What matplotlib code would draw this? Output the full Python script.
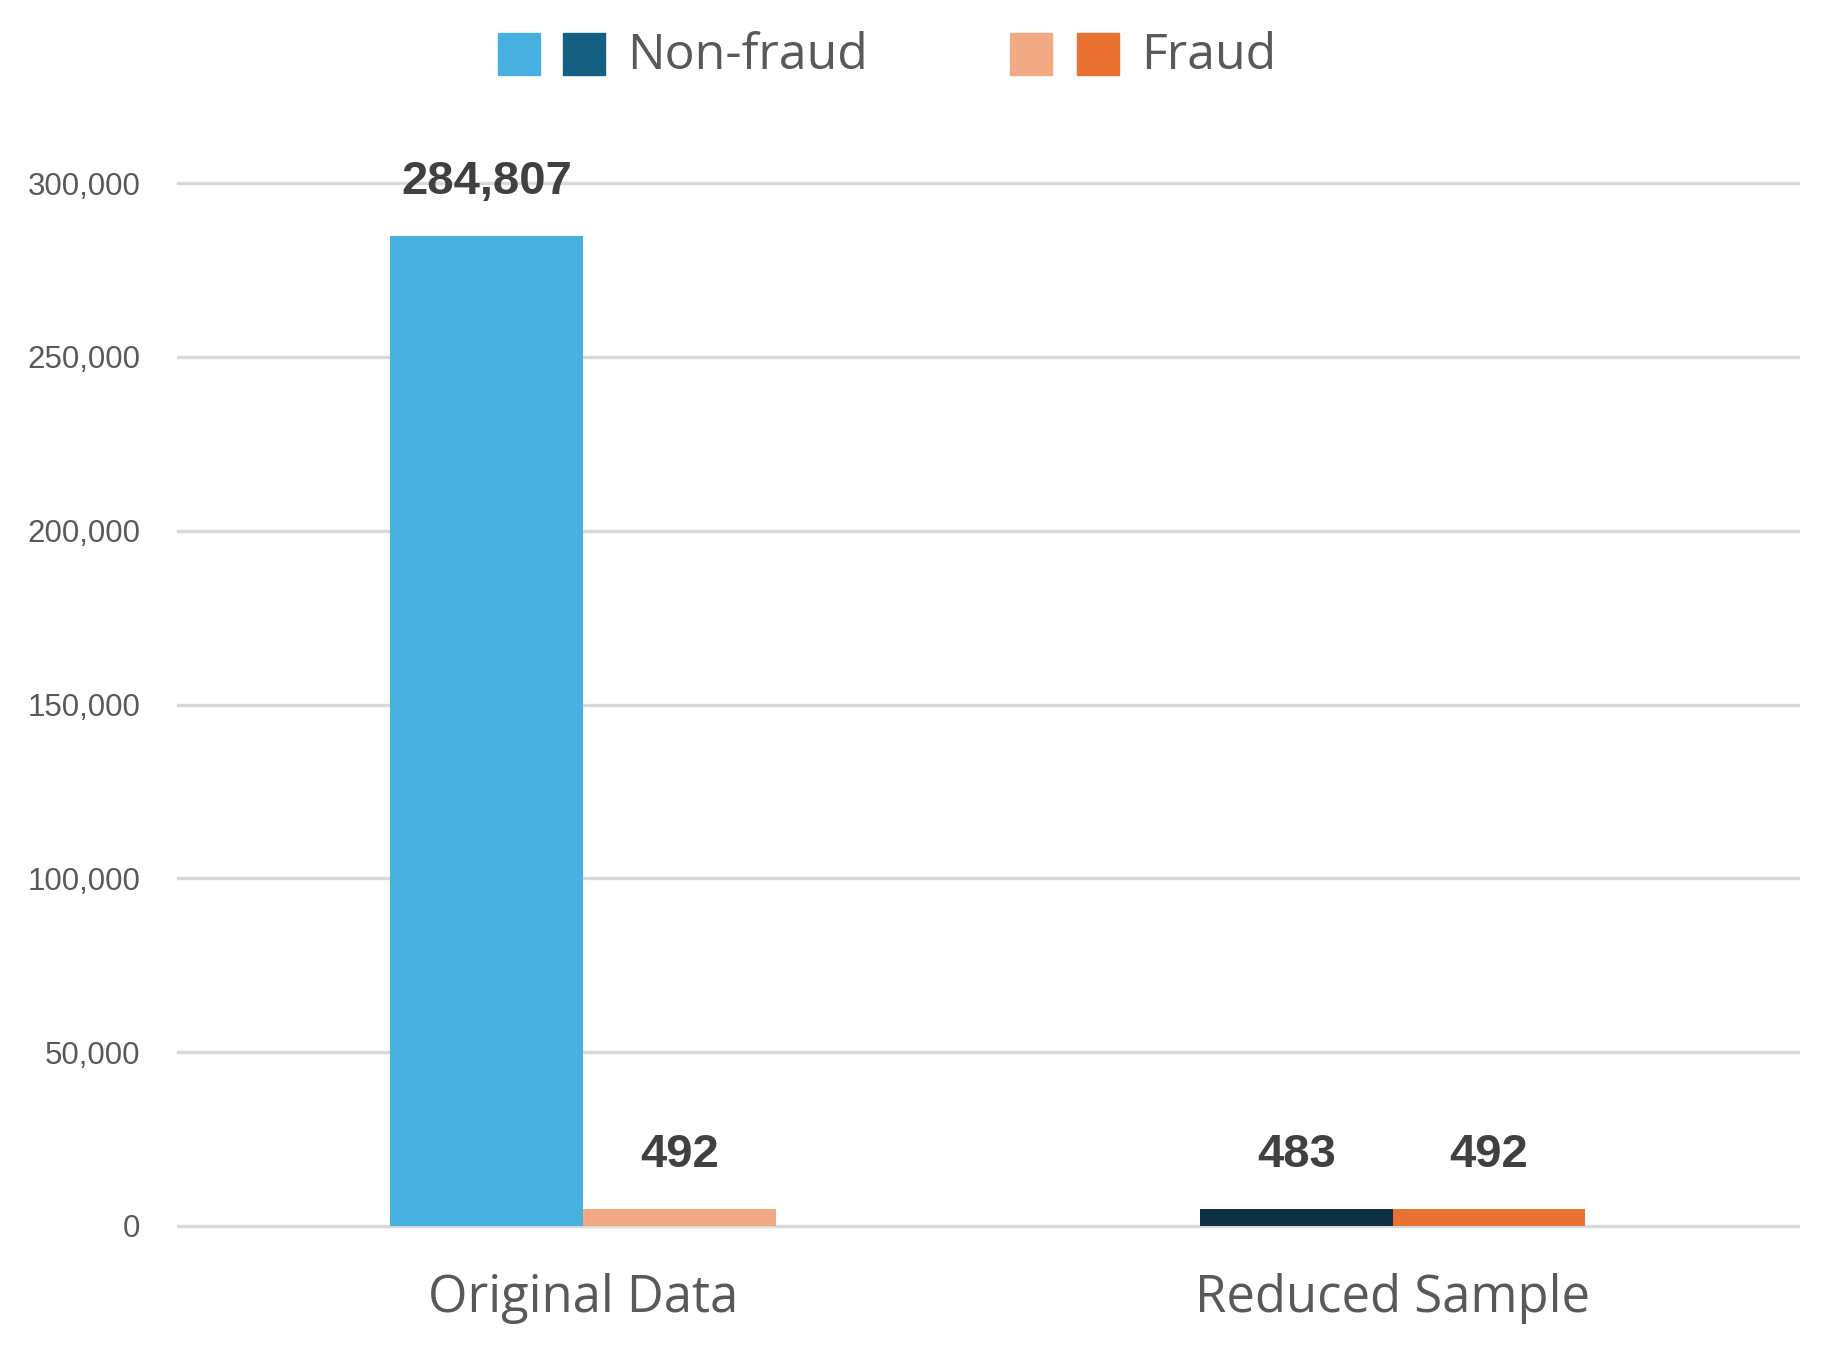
import matplotlib
matplotlib.use("Agg")
import matplotlib.pyplot as plt
from matplotlib.patches import Rectangle
from matplotlib.ticker import FuncFormatter
import numpy as np

# ---- data ----
categories = ["Original Data", "Reduced Sample"]
nonfraud = [284807, 483]
fraud = [492, 492]
legend_labels = ["Non-fraud", "Fraud"]
y_ticks = [0, 50000, 100000, 150000, 200000, 250000, 300000]

# ---- style ----
nonfraud_colors = ["#47B0E0", "#0E2F44"]
fraud_colors = ["#F2AA84", "#E97132"]
legend_nonfraud = ["#47B0E0", "#156082"]
legend_fraud = ["#F2AA84", "#E97132"]
min_visible = 4800  # minimum drawn height so tiny bars stay visible
bar_w = 0.238

fig = plt.figure(figsize=(18.25, 13.49), dpi=100)
ax = fig.add_axes([0.0975, 0.0912, 0.8875, 0.7731])

x = np.arange(len(categories))
nf_h = [max(v, min_visible) for v in nonfraud]
fr_h = [max(v, min_visible) for v in fraud]
ax.bar(x - bar_w / 2, nf_h, width=bar_w, color=nonfraud_colors, zorder=3)
ax.bar(x + bar_w / 2, fr_h, width=bar_w, color=fraud_colors, zorder=3)

for xs, vals, hs in ((x - bar_w / 2, nonfraud, nf_h), (x + bar_w / 2, fraud, fr_h)):
    for xi, v, h in zip(xs, vals, hs):
        ax.annotate(f"{v:,}", (xi, h), xytext=(0, 39), textcoords="offset points",
                    ha="center", va="center", fontsize=34, fontweight="bold",
                    color="#404040", family="Liberation Sans")

ax.set_xlim(-0.5, 1.5)
ax.set_ylim(0, 300000)
ax.set_yticks(y_ticks)
ax.yaxis.set_major_formatter(FuncFormatter(lambda v, p: f"{int(v):,}"))
ax.set_xticks(x)
ax.set_xticklabels(categories, fontsize=36.5, color="#595959", family="Open Sans")
for lab in ax.get_yticklabels():
    lab.set_fontsize(22.5)
    lab.set_color("#595959")
    lab.set_family("Liberation Sans")
ax.tick_params(axis="y", length=0, pad=27)
ax.tick_params(axis="x", length=0, pad=34)
ax.grid(axis="y", color="#D9D9D9", linewidth=2.4, zorder=0)
for gl in ax.get_ygridlines():
    gl.set_clip_on(False)
for s in ax.spines.values():
    s.set_visible(False)
ax.set_axisbelow(True)

# ---- legend (manual) ----
W, H = 1825, 1349
sq = 42
yc = 54
def square(px, color):
    fig.patches.append(Rectangle((px / W, (H - yc - sq / 2) / H), sq / W, sq / H,
                                 transform=fig.transFigure, color=color))
square(498, legend_nonfraud[0])
square(563, legend_nonfraud[1])
fig.text(627 / W, 1 - (yc + 2) / H, legend_labels[0], fontsize=36, color="#595959",
         family="Open Sans", va="center", ha="left")
square(1010, legend_fraud[0])
square(1077, legend_fraud[1])
fig.text(1141 / W, 1 - (yc + 2) / H, legend_labels[1], fontsize=36, color="#595959",
         family="Open Sans", va="center", ha="left")

fig.savefig("out.png", dpi=100, facecolor="white")
